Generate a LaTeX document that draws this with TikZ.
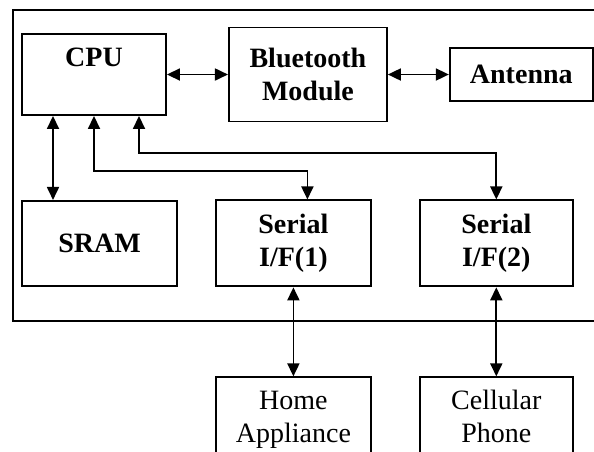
\documentclass[tikz,border=0pt]{standalone}
\usepackage{fontspec}
\setmainfont{Liberation Serif}
\usetikzlibrary{positioning, arrows.meta}

\begin{document}
\begin{tikzpicture}[
        x=1pt, y=-1pt,
        line width=1.8pt,
        box/.style = {draw, line width=1.9pt, align=center, inner sep=0pt, font=\fontsize{28}{33}\selectfont\bfseries},
        plainbox/.style = {box, font=\fontsize{28}{33}\selectfont},
        arrow/.style = {{Triangle[length=13pt,width=12pt]}-{Triangle[length=13pt,width=12pt]}}
        ]
    \useasboundingbox (0,0) rectangle (594,451);
    \clip (0,0) rectangle (594,451);

    % frame of the device
    \draw (13,10) rectangle (610,321);

    % nodes
    \node[box, minimum width=144pt, text height=32pt, text depth=49pt] (cpu) at (94,74.5) {CPU};
    \node[box, right=61pt of cpu, minimum width=158pt, minimum height=94pt] (bt) {Bluetooth\\Module};
    \node[box, right=61pt of bt, minimum width=143pt, minimum height=53pt] (ant) {Antenna};
    \node[box, below=84pt of cpu.south west, anchor=north west, minimum width=155pt, minimum height=85pt] (sram) {SRAM};
    \node[box, right=37pt of sram, minimum width=155pt, minimum height=86pt] (ser1) {Serial\\I/F(1)};
    \node[box, right=47pt of ser1, minimum width=153pt, minimum height=86pt] (ser2) {Serial\\I/F(2)};
    \node[plainbox, below=89pt of ser1, minimum width=155pt, minimum height=85pt] (home) {\strut Home\\\strut Appliance};
    \node[plainbox, below=89pt of ser2, minimum width=153pt, minimum height=85pt] (cell) {\strut Cellular\\\strut Phone};

    % arrows
    \draw[arrow] (cpu.east) -- (cpu.east -| bt.west);
    \draw[arrow] (ant.west -| bt.east) -- (ant.west);
    \draw[arrow] ([xshift=-41pt]cpu.south) -- ([xshift=-41pt]cpu.south |- sram.north);
    \draw[arrow] (cpu.south) -- ++(0,55) -| ([xshift=14pt]ser1.north);
    \draw[arrow] ([xshift=45pt]cpu.south) -- ++(0,37) -| (ser2.north);
    \draw[arrow] (ser1.south) -- (home.north);
    \draw[arrow] (ser2.south) -- (cell.north);

\end{tikzpicture}
\end{document}
